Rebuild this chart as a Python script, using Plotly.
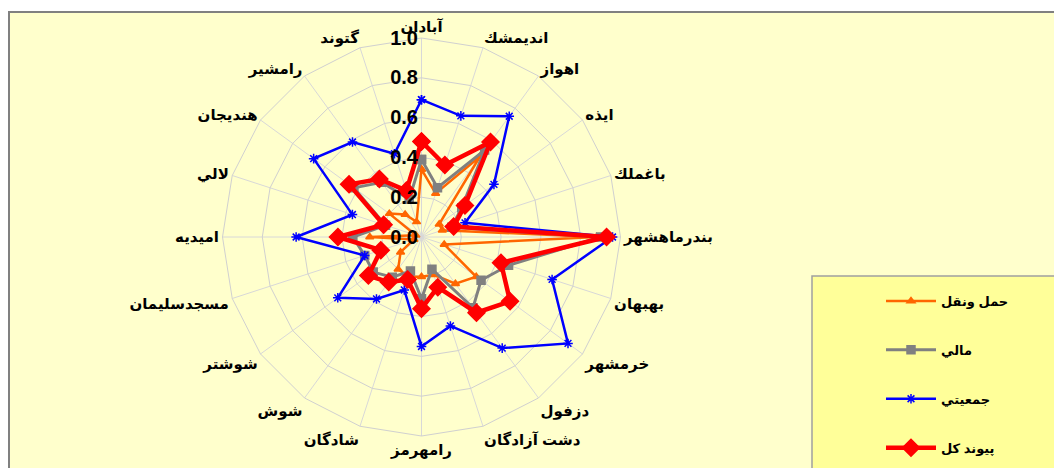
import plotly.graph_objects as go

categories = ["آبادان", "اندیمشك", "اهواز", "ایذه", "باغملك", "بندرماهشهر", "بهبهان",
              "خرمشهر", "دزفول", "دشت آزادگان", "رامهرمز", "شادگان", "شوش", "شوشتر",
              "مسجدسليمان", "اميديه", "لالي", "هنديجان", "رامشير", "گتوند"]

transport = [0.34, 0.23, 0.50, 0.11, 0.11, 0.88, 0.12, 0.34, 0.29, 0.20,
             0.20, 0.21, 0.20, 0.13, 0.04, 0.26, 0.03, 0.20, 0.14, 0.08]
financial = [0.39, 0.26, 0.54, 0.25, 0.16, 0.90, 0.46, 0.37, 0.44, 0.17,
             0.31, 0.18, 0.25, 0.30, 0.30, 0.345, 0.19, 0.42, 0.34, 0.20]
population = [0.69, 0.64, 0.75, 0.45, 0.23, 0.96, 0.69, 0.91, 0.69, 0.47,
              0.55, 0.28, 0.385, 0.52, 0.30, 0.63, 0.365, 0.67, 0.59, 0.44]
total = [0.48, 0.38, 0.59, 0.27, 0.17, 0.93, 0.42, 0.55, 0.47, 0.265,
         0.36, 0.225, 0.28, 0.33, 0.215, 0.42, 0.20, 0.45, 0.36, 0.245]

series_names = ["حمل ونقل", "مالي", "جمعيتي", "پيوند كل"]
tick_vals = [0.0, 0.2, 0.4, 0.6, 0.8, 1.0]

W, H = 1062, 468
OFF = 8  # page body margin offset
cx, cy, R = 421.5 - OFF, 237.0 - OFF, 199.0

def closed(v):
    return list(v) + [v[0]]

def px_x(x):
    return (x - OFF) / W

def px_y(y):
    return 1 - (y - OFF) / H

styles = [
    dict(color="#FF6600", width=2.5, symbol="triangle-up", size=7),
    dict(color="#808080", width=3, symbol="square", size=8),
    dict(color="#0000FF", width=2.5, symbol="asterisk-open", size=8),
    dict(color="#FF0000", width=4.5, symbol="diamond", size=13),
]

fig = go.Figure()
for i, (name, vals) in enumerate(zip(series_names, [transport, financial, population, total])):
    s = styles[i]
    fig.add_trace(go.Scatterpolar(
        r=closed(vals), theta=closed(categories), name=name, mode="lines+markers",
        line=dict(color=s["color"], width=s["width"]),
        marker=dict(symbol=s["symbol"], size=s["size"], color=s["color"],
                    line=dict(color=s["color"], width=1.5)),
        legendgroup=f"g{i}",
    ))

axis_font = dict(family="Liberation Sans, DejaVu Sans, Arial", size=15, color="black", weight="bold")

fig.update_layout(
    width=W, height=H,
    margin=dict(l=0, r=0, t=0, b=0),
    paper_bgcolor="white",
    plot_bgcolor="rgba(0,0,0,0)",
    showlegend=True,
    polar=dict(
        domain=dict(x=[(cx - R) / W, (cx + R) / W], y=[1 - (cy + R) / H, 1 - (cy - R) / H]),
        bgcolor="rgba(0,0,0,0)",
        gridshape="linear",
        angularaxis=dict(
            direction="clockwise", rotation=90, categoryorder="array", categoryarray=categories,
            showline=True, linecolor="#D0D0D0", linewidth=1,
            gridcolor="#D8D8D8", gridwidth=1, ticks="",
            tickfont=axis_font,
        ),
        radialaxis=dict(
            range=[0, 1], tickvals=tick_vals, tickformat=".1f", angle=90, tickangle=90,
            ticksuffix="\u00a0\u00a0\u00a0\u00a0",
            side="counterclockwise", showline=False, ticks="",
            gridcolor="#D0D0D0", gridwidth=1,
            tickfont=dict(family="Liberation Sans, DejaVu Sans, Arial", size=20, color="black", weight="bold"),
        ),
    ),
    legend=dict(
        x=px_x(881), y=px_y(286), xanchor="left", yanchor="top",
        bgcolor="rgba(0,0,0,0)", borderwidth=0,
        font=dict(family="Liberation Sans, DejaVu Sans, Arial", size=13, color="black", weight="bold"),
        tracegroupgap=29, itemwidth=50,
    ),
    shapes=[
        dict(type="rect", xref="paper", yref="paper", x0=px_x(9), x1=1.05, y0=-0.05, y1=px_y(12),
             fillcolor="#FFFFCC", line=dict(color="#808080", width=2), layer="below"),
        dict(type="rect", xref="paper", yref="paper", x0=px_x(812), x1=1.05, y0=-0.05, y1=px_y(276),
             fillcolor="#FFFF99", line=dict(color="#A0A0A0", width=1.5), layer="below"),
    ],
)

fig.write_html("out.html")
